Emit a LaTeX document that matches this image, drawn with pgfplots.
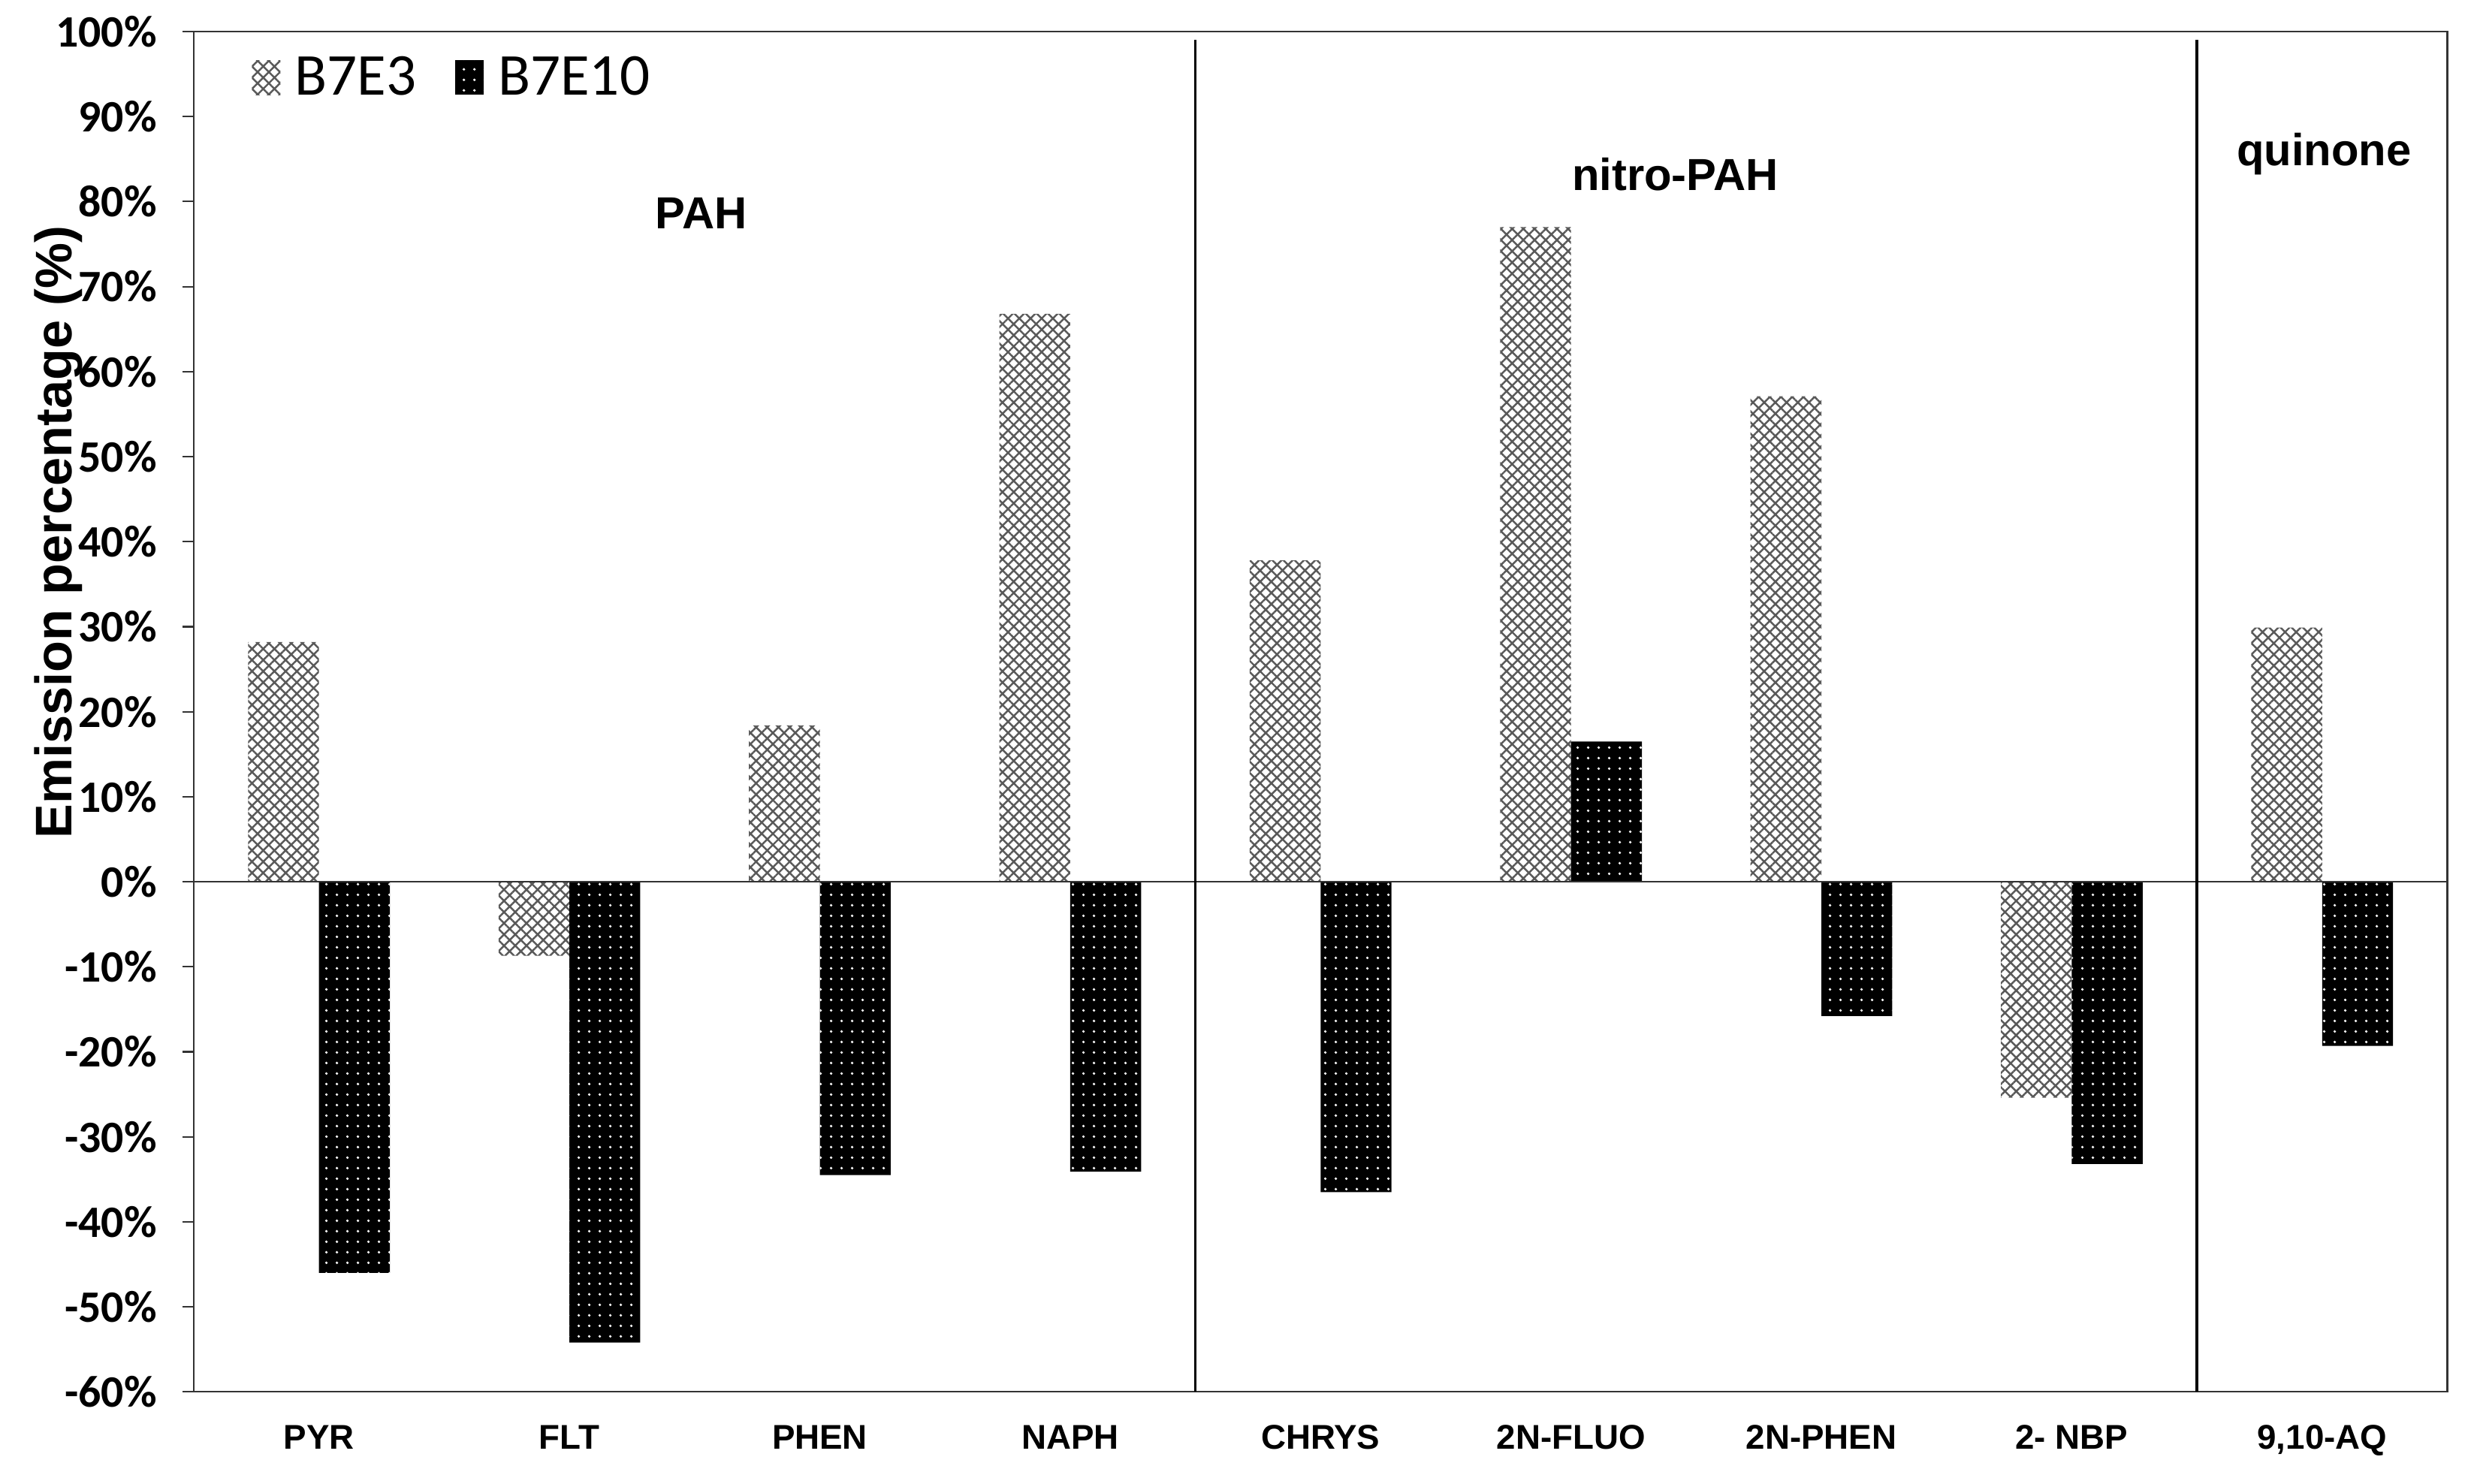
\documentclass[border=0pt]{standalone}
\usepackage{fontspec}
\setmainfont{Carlito}
\newfontfamily\arial{Liberation Sans}
\usepackage{pgfplots}
\usepackage{pgfplotstable}
\pgfplotsset{compat=1.18}
\usetikzlibrary{patterns.meta}

\pgfplotstableread{
x e3 e10
0 28.2 -46.0
1 -8.7 -54.2
2 18.4 -34.5
3 66.8 -34.1
4 37.8 -36.5
5 77.0 16.5
6 57.1 -15.8
7 -25.4 -33.2
8 29.9 -19.3
}\datatable

\pgfplotsset{
  sqlegend/.style={legend image code/.code={\draw[##1,draw=none] (0cm,-0.23cm) rectangle (0.38cm,0.23cm);}},
}

\begin{document}
\begin{tikzpicture}
\begin{axis}[name=ax, scale only axis, width=30cm, height=18.11cm,
  xmin=-0.5, xmax=8.5, ymin=-60, ymax=100,
  ybar=0pt, bar width=0.283,
  xtick={0,...,8},
  xticklabels={PYR,FLT,PHEN,NAPH,CHRYS,2N-FLUO,2N-PHEN,2- NBP,{9,10-AQ}},
  x tick label style={font=\arial\bfseries\fontsize{13}{15}\selectfont, anchor=north, yshift=-0.17cm},
  major x tick style={draw=none},
  ytick={-60,-50,...,100},
  yticklabels={-60\%,-50\%,-40\%,-30\%,-20\%,-10\%,0\%,10\%,20\%,30\%,40\%,50\%,60\%,70\%,80\%,90\%,100\%},
  y tick label style={font=\bfseries\fontsize{17}{19}\selectfont, xshift=-0.22cm},
  tick align=outside, major tick length=0.15cm,
  ytick pos=left, xtick pos=bottom,
  major y tick style={black!80, line width=0.6pt},
  axis line style={black!80, line width=0.6pt},
  ylabel={Emission percentage (\%)},
  every axis y label/.style={at={(rel axis cs:0,0.632)}, xshift=-1.8cm, rotate=90, anchor=center, font=\arial\bfseries\fontsize{19.5}{22}\selectfont},
  legend style={at={(rel axis cs:0.022,0.99)}, anchor=north west, draw=none, fill=none,
    font=\fontsize{22.5}{26}\selectfont, legend columns=2,
    /tikz/every odd column/.append style={column sep=0.12cm},
    /tikz/every even column/.append style={column sep=0.45cm}},
  legend cell align=left,
]
\addplot[draw=none, fill=white, postaction={pattern={Hatch[angle=45,distance=3pt,line width=0.7pt]}, pattern color=black!65}, sqlegend] table[x=x,y=e3]{\datatable};
\addlegendentry{B7E3}
\addplot[draw=none, fill=black, postaction={pattern={Dots[distance=4pt,radius=0.55pt]}, pattern color=white}, sqlegend] table[x=x,y=e10]{\datatable};
\addlegendentry{B7E10}
\draw[black!80, line width=0.6pt] (axis cs:-0.5,0) -- (axis cs:8.5,0);
\draw[black, line width=1pt] (axis cs:3.5,-60) -- (axis cs:3.5,99);
\draw[black, line width=1pt] (axis cs:7.5,-60) -- (axis cs:7.5,99);
\node[font=\arial\bfseries\fontsize{17}{20}\selectfont, anchor=base] at (axis cs:1.526,76.8) {PAH};
\node[font=\arial\bfseries\fontsize{17}{20}\selectfont, anchor=base] at (axis cs:5.416,81.3) {nitro-PAH};
\node[font=\arial\bfseries\fontsize{17}{20}\selectfont, anchor=base] at (axis cs:8.008,84.2) {quinone};
\end{axis}
\pgfresetboundingbox
\path ([xshift=-2.58cm,yshift=-1.217cm]ax.south west) rectangle ([xshift=0.315cm,yshift=0.42cm]ax.north east);
\end{tikzpicture}
\end{document}
